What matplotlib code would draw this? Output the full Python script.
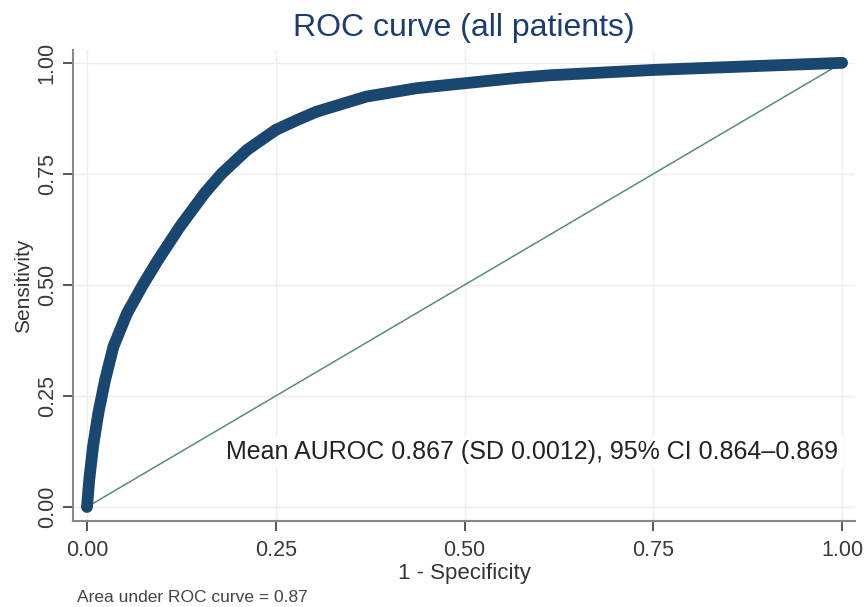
# ROC curve (all patients)

import numpy as np
import matplotlib.pyplot as plt

# ROC points
fpr = [0, 0.003, 0.008, 0.015, 0.024, 0.035, 0.053, 0.074, 0.094, 0.123,
       0.156, 0.178, 0.212, 0.25, 0.278, 0.304, 0.37, 0.437, 0.5, 0.569,
       0.613, 0.75, 0.89, 1.0]
tpr = [0, 0.061, 0.136, 0.211, 0.286, 0.361, 0.436, 0.5, 0.556, 0.631,
       0.707, 0.75, 0.804, 0.849, 0.871, 0.89, 0.924, 0.943, 0.954, 0.966,
       0.972, 0.984, 0.993, 1.0]
ticks = [0, 0.25, 0.5, 0.75, 1.0]
tick_labels = ['0.00', '0.25', '0.50', '0.75', '1.00']

plt.rcParams['font.family'] = ['Liberation Sans', 'DejaVu Sans']

fig = plt.figure(figsize=(8.64, 6.07), dpi=100)
ax = fig.add_axes([0.0845, 0.1417, 0.905, 0.776])

ax.plot([0, 1], [0, 1], color='#5b8a7c', lw=1.1, zorder=2)
ax.plot(fpr, tpr, color='#1a476f', lw=8.5, solid_capstyle='round',
        solid_joinstyle='round', zorder=3)

ax.set_xlim(-0.0185, 1.017)
ax.set_ylim(-0.0315, 1.029)
ax.set_xticks(ticks)
ax.set_xticklabels(tick_labels)
ax.set_yticks(ticks)
ax.set_yticklabels(tick_labels, rotation=90, va='center')
ax.tick_params(colors='#3a3a3a', labelsize=15.5, length=7, width=1.2)
ax.tick_params(axis='x', pad=7)
ax.tick_params(axis='y', pad=4)
ax.grid(True, color='#eeeeee', lw=1)
ax.set_axisbelow(True)
for s in ['top', 'right']:
    ax.spines[s].set_visible(False)
for s in ['left', 'bottom']:
    ax.spines[s].set_color('#888888')
    ax.spines[s].set_linewidth(1.5)

ax.set_xlabel('1 - Specificity', fontsize=16, color='#333333', labelpad=1)
ax.set_ylabel('Sensitivity', fontsize=15, color='#333333', labelpad=3)
ax.set_title('ROC curve (all patients)', fontsize=23, color='#1e3c6e', pad=10)

ax.text(0.995, 0.124, 'Mean AUROC 0.867 (SD 0.0012), 95% CI 0.864\u20130.869',
        fontsize=18, color='#222222', ha='right', va='center',
        bbox=dict(facecolor='white', edgecolor='none', pad=3), zorder=4)

fig.text(0.089, 0.015, 'Area under ROC curve = 0.87', fontsize=12.5,
         color='#444444', va='center')

plt.savefig('out.png', dpi=100)
